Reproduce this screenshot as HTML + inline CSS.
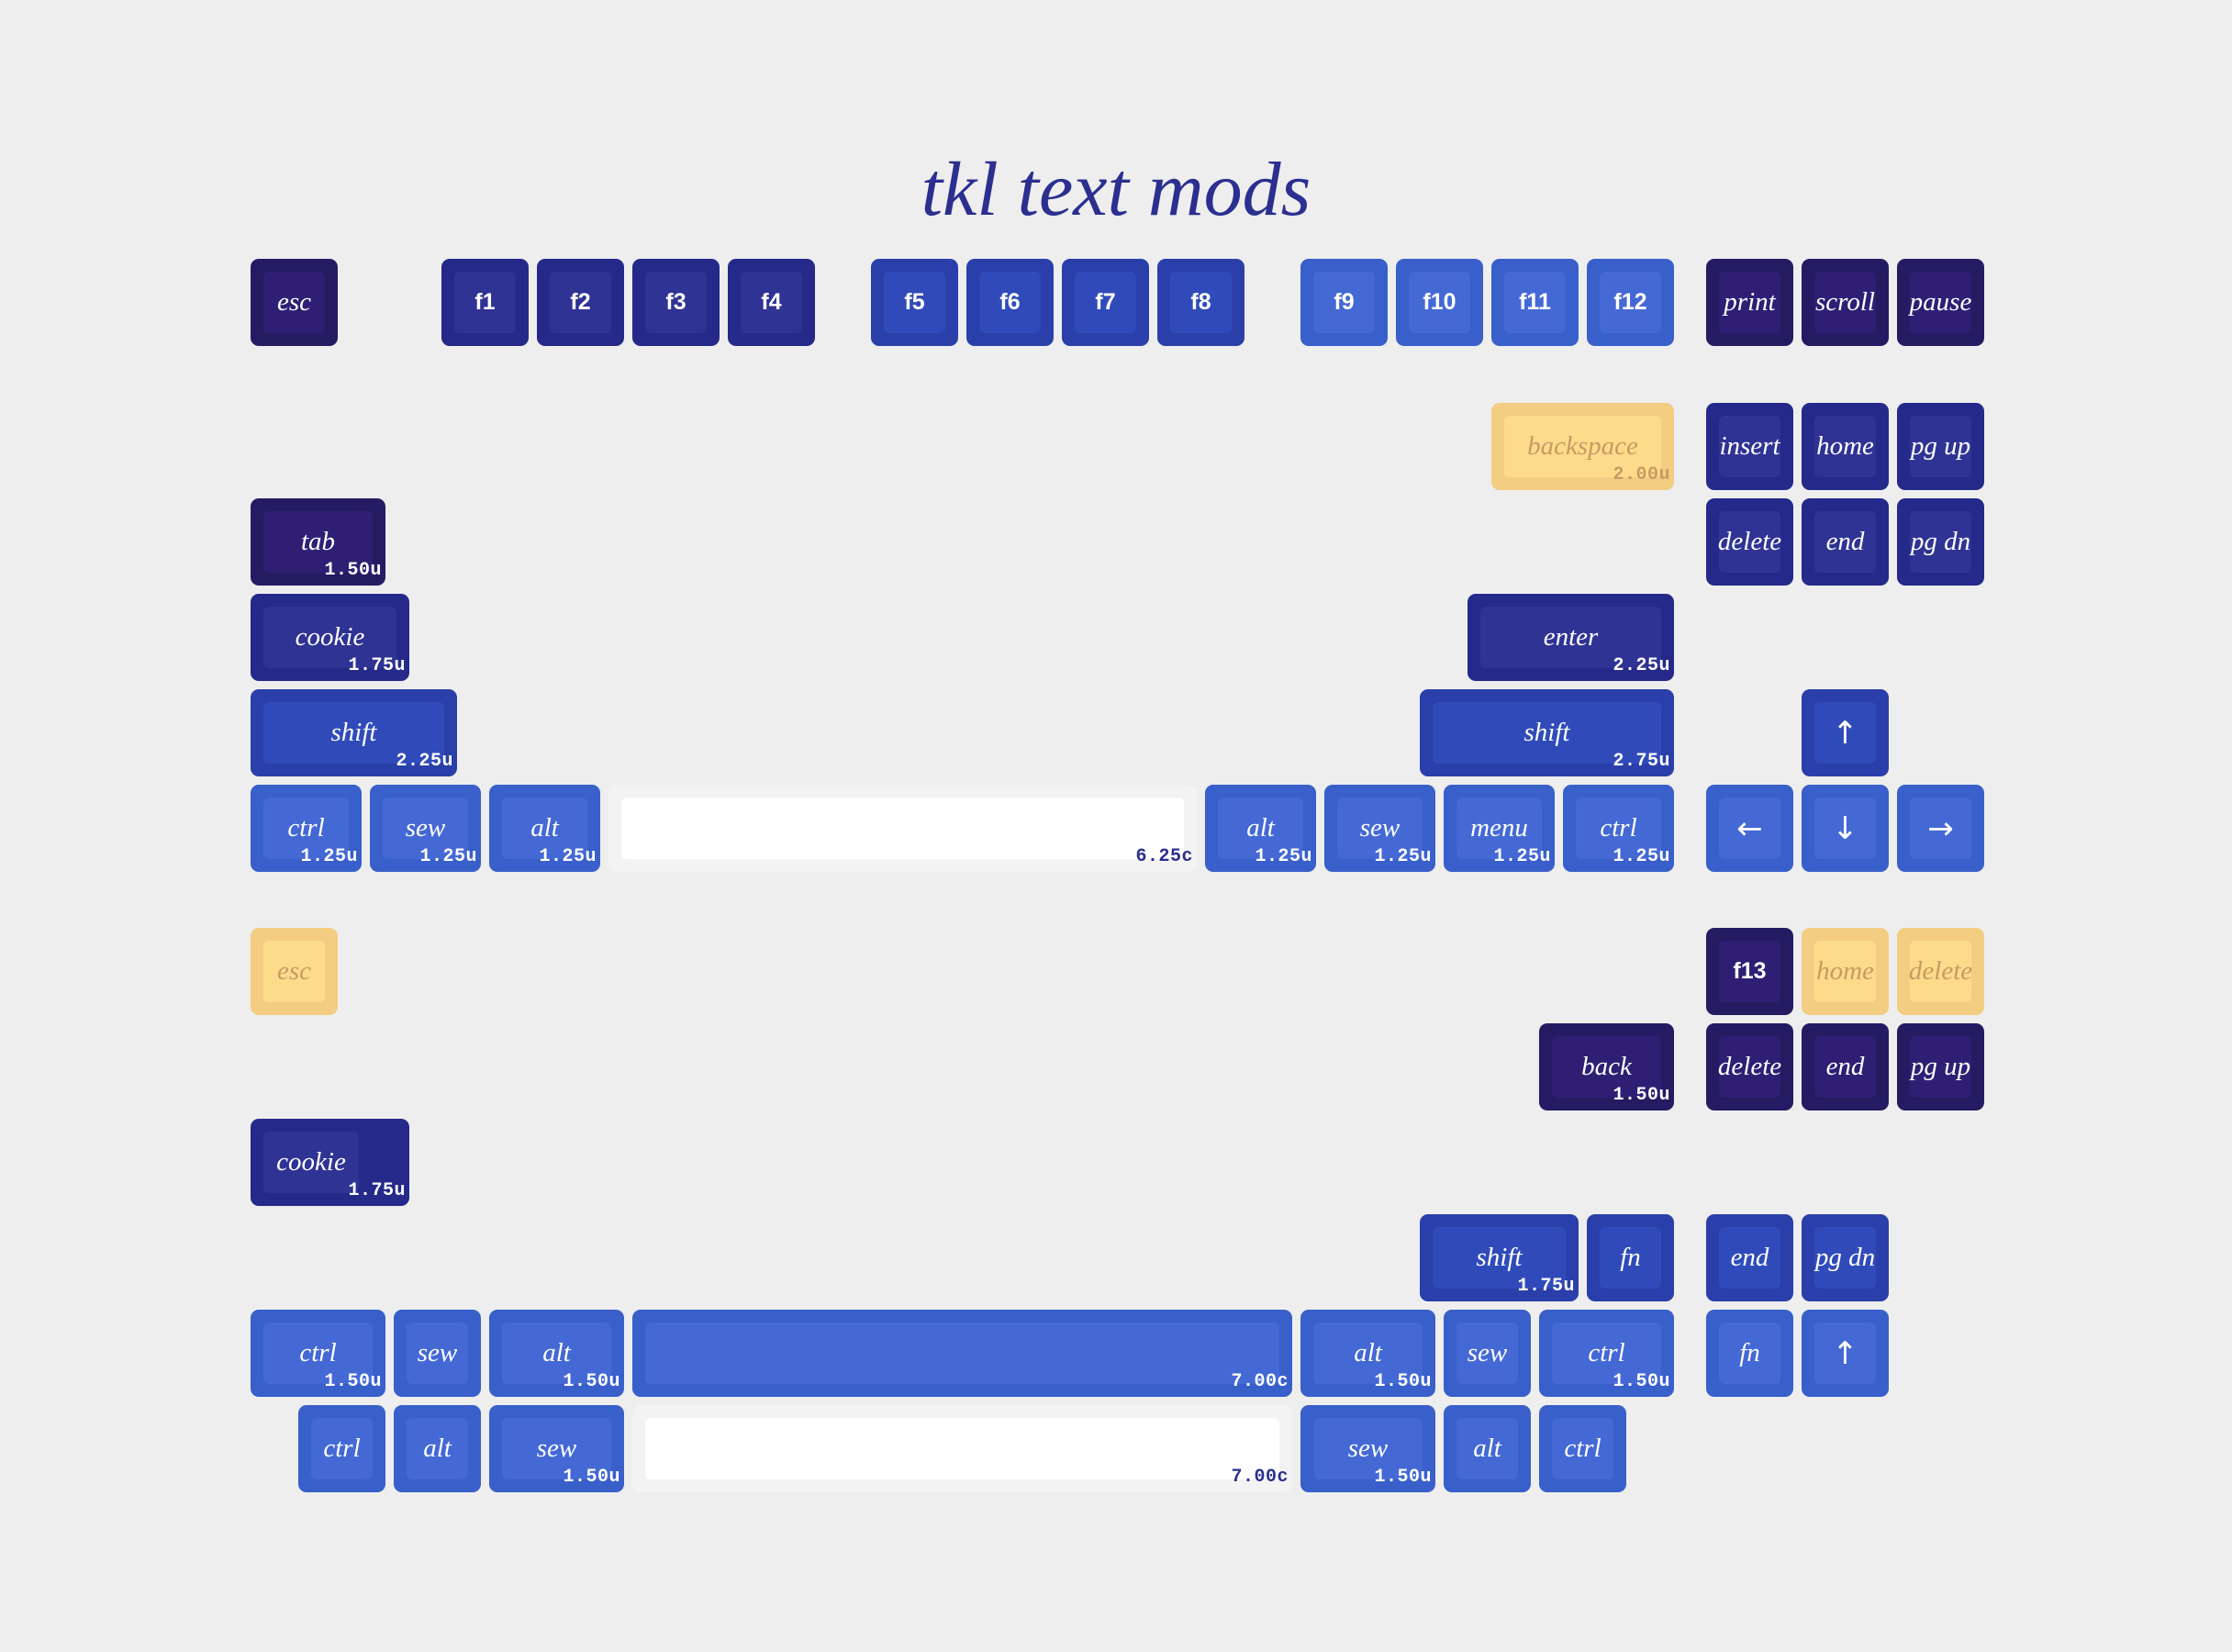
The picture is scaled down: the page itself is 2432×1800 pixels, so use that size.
<!DOCTYPE html>
<html><head><meta charset="utf-8"><style>
html,body{margin:0;padding:0}
body{width:2432px;height:1800px;background:#eeeeee;position:relative;overflow:hidden}
.t{position:absolute;left:0;width:2432px;top:157px;text-align:center;font-family:"Liberation Serif",serif;font-style:italic;font-size:84px;color:#2b2f8f;line-height:100px}
.k{position:absolute;height:95px;border-radius:9px}
.k .i{position:absolute;left:14px;top:14px;right:14px;bottom:14px;border-radius:6px;display:flex;align-items:center;justify-content:center;font-family:"Liberation Serif",serif;font-style:italic;font-size:29px;color:#fff;white-space:nowrap}
.k .i.f{font-family:"Liberation Sans",sans-serif;font-style:normal;font-weight:bold;font-size:25px}
.k .i.a{font-style:normal;font-family:"DejaVu Sans",sans-serif;font-size:34px}
.k .s{position:absolute;right:4px;bottom:6px;font-family:"Liberation Mono",monospace;font-weight:bold;font-size:20px;color:#fff;line-height:20px;letter-spacing:0.5px}
.d{background:#251b63}.d .i{background:#2e1f74}
.n{background:#24298a}.n .i{background:#2f3394}
.m{background:#2a3fa9}.m .i{background:#304bb9}
.l{background:#395fca}.l .i{background:#4469d5}
.y{background:#f2cd82}.y .i{background:#fcdc8b;color:#c79a63}.y .s{color:#c79a63}
.w{background:#f3f3f3}.w .i{background:#fff}.w .s{color:#2a2f8f}
.w1{width:95px}.w125{width:121px}.w15{width:147px}.w175{width:173px}.w2{width:199px}.w225{width:225px}.w275{width:277px}.w625{width:641px}.w7{width:719px}
</style></head><body>
<div class="t">tkl text mods</div>

<div class="k d w1" style="left:273px;top:282px"><div class="i">esc</div></div>
<div class="k n w1" style="left:481px;top:282px"><div class="i f">f1</div></div>
<div class="k n w1" style="left:585px;top:282px"><div class="i f">f2</div></div>
<div class="k n w1" style="left:689px;top:282px"><div class="i f">f3</div></div>
<div class="k n w1" style="left:793px;top:282px"><div class="i f">f4</div></div>
<div class="k m w1" style="left:949px;top:282px"><div class="i f">f5</div></div>
<div class="k m w1" style="left:1053px;top:282px"><div class="i f">f6</div></div>
<div class="k m w1" style="left:1157px;top:282px"><div class="i f">f7</div></div>
<div class="k m w1" style="left:1261px;top:282px"><div class="i f">f8</div></div>
<div class="k l w1" style="left:1417px;top:282px"><div class="i f">f9</div></div>
<div class="k l w1" style="left:1521px;top:282px"><div class="i f">f10</div></div>
<div class="k l w1" style="left:1625px;top:282px"><div class="i f">f11</div></div>
<div class="k l w1" style="left:1729px;top:282px"><div class="i f">f12</div></div>
<div class="k d w1" style="left:1859px;top:282px"><div class="i">print</div></div>
<div class="k d w1" style="left:1963px;top:282px"><div class="i">scroll</div></div>
<div class="k d w1" style="left:2067px;top:282px"><div class="i">pause</div></div>

<div class="k y w2" style="left:1625px;top:439px"><div class="i">backspace</div><div class="s">2.00u</div></div>
<div class="k n w1" style="left:1859px;top:439px"><div class="i">insert</div></div>
<div class="k n w1" style="left:1963px;top:439px"><div class="i">home</div></div>
<div class="k n w1" style="left:2067px;top:439px"><div class="i">pg up</div></div>
<div class="k d w15" style="left:273px;top:543px"><div class="i">tab</div><div class="s">1.50u</div></div>
<div class="k n w1" style="left:1859px;top:543px"><div class="i">delete</div></div>
<div class="k n w1" style="left:1963px;top:543px"><div class="i">end</div></div>
<div class="k n w1" style="left:2067px;top:543px"><div class="i">pg dn</div></div>
<div class="k n w175" style="left:273px;top:647px"><div class="i">cookie</div><div class="s">1.75u</div></div>
<div class="k n w225" style="left:1599px;top:647px"><div class="i">enter</div><div class="s">2.25u</div></div>
<div class="k m w225" style="left:273px;top:751px"><div class="i">shift</div><div class="s">2.25u</div></div>
<div class="k m w275" style="left:1547px;top:751px"><div class="i">shift</div><div class="s">2.75u</div></div>
<div class="k m w1" style="left:1963px;top:751px"><div class="i a">↑</div></div>
<div class="k l w125" style="left:273px;top:855px"><div class="i">ctrl</div><div class="s">1.25u</div></div>
<div class="k l w125" style="left:403px;top:855px"><div class="i">sew</div><div class="s">1.25u</div></div>
<div class="k l w125" style="left:533px;top:855px"><div class="i">alt</div><div class="s">1.25u</div></div>
<div class="k w w625" style="left:663px;top:855px"><div class="i"></div><div class="s">6.25c</div></div>
<div class="k l w125" style="left:1313px;top:855px"><div class="i">alt</div><div class="s">1.25u</div></div>
<div class="k l w125" style="left:1443px;top:855px"><div class="i">sew</div><div class="s">1.25u</div></div>
<div class="k l w125" style="left:1573px;top:855px"><div class="i">menu</div><div class="s">1.25u</div></div>
<div class="k l w125" style="left:1703px;top:855px"><div class="i">ctrl</div><div class="s">1.25u</div></div>
<div class="k l w1" style="left:1859px;top:855px"><div class="i a">←</div></div>
<div class="k l w1" style="left:1963px;top:855px"><div class="i a">↓</div></div>
<div class="k l w1" style="left:2067px;top:855px"><div class="i a">→</div></div>

<div class="k y w1" style="left:273px;top:1011px"><div class="i">esc</div></div>
<div class="k d w1" style="left:1859px;top:1011px"><div class="i f">f13</div></div>
<div class="k y w1" style="left:1963px;top:1011px"><div class="i">home</div></div>
<div class="k y w1" style="left:2067px;top:1011px"><div class="i">delete</div></div>

<div class="k d w15" style="left:1677px;top:1115px"><div class="i">back</div><div class="s">1.50u</div></div>
<div class="k d w1" style="left:1859px;top:1115px"><div class="i">delete</div></div>
<div class="k d w1" style="left:1963px;top:1115px"><div class="i">end</div></div>
<div class="k d w1" style="left:2067px;top:1115px"><div class="i">pg up</div></div>

<div class="k n w175" style="left:273px;top:1219px"><div class="i" style="right:55px">cookie</div><div class="s">1.75u</div></div>

<div class="k m w175" style="left:1547px;top:1323px"><div class="i">shift</div><div class="s">1.75u</div></div>
<div class="k m w1" style="left:1729px;top:1323px"><div class="i">fn</div></div>
<div class="k m w1" style="left:1859px;top:1323px"><div class="i">end</div></div>
<div class="k m w1" style="left:1963px;top:1323px"><div class="i">pg dn</div></div>

<div class="k l w15" style="left:273px;top:1427px"><div class="i">ctrl</div><div class="s">1.50u</div></div>
<div class="k l w1" style="left:429px;top:1427px"><div class="i">sew</div></div>
<div class="k l w15" style="left:533px;top:1427px"><div class="i">alt</div><div class="s">1.50u</div></div>
<div class="k l w7" style="left:689px;top:1427px"><div class="i"></div><div class="s">7.00c</div></div>
<div class="k l w15" style="left:1417px;top:1427px"><div class="i">alt</div><div class="s">1.50u</div></div>
<div class="k l w1" style="left:1573px;top:1427px"><div class="i">sew</div></div>
<div class="k l w15" style="left:1677px;top:1427px"><div class="i">ctrl</div><div class="s">1.50u</div></div>
<div class="k l w1" style="left:1859px;top:1427px"><div class="i">fn</div></div>
<div class="k l w1" style="left:1963px;top:1427px"><div class="i a">↑</div></div>

<div class="k l w1" style="left:325px;top:1531px"><div class="i">ctrl</div></div>
<div class="k l w1" style="left:429px;top:1531px"><div class="i">alt</div></div>
<div class="k l w15" style="left:533px;top:1531px"><div class="i">sew</div><div class="s">1.50u</div></div>
<div class="k w w7" style="left:689px;top:1531px"><div class="i"></div><div class="s">7.00c</div></div>
<div class="k l w15" style="left:1417px;top:1531px"><div class="i">sew</div><div class="s">1.50u</div></div>
<div class="k l w1" style="left:1573px;top:1531px"><div class="i">alt</div></div>
<div class="k l w1" style="left:1677px;top:1531px"><div class="i">ctrl</div></div>
</body></html>
